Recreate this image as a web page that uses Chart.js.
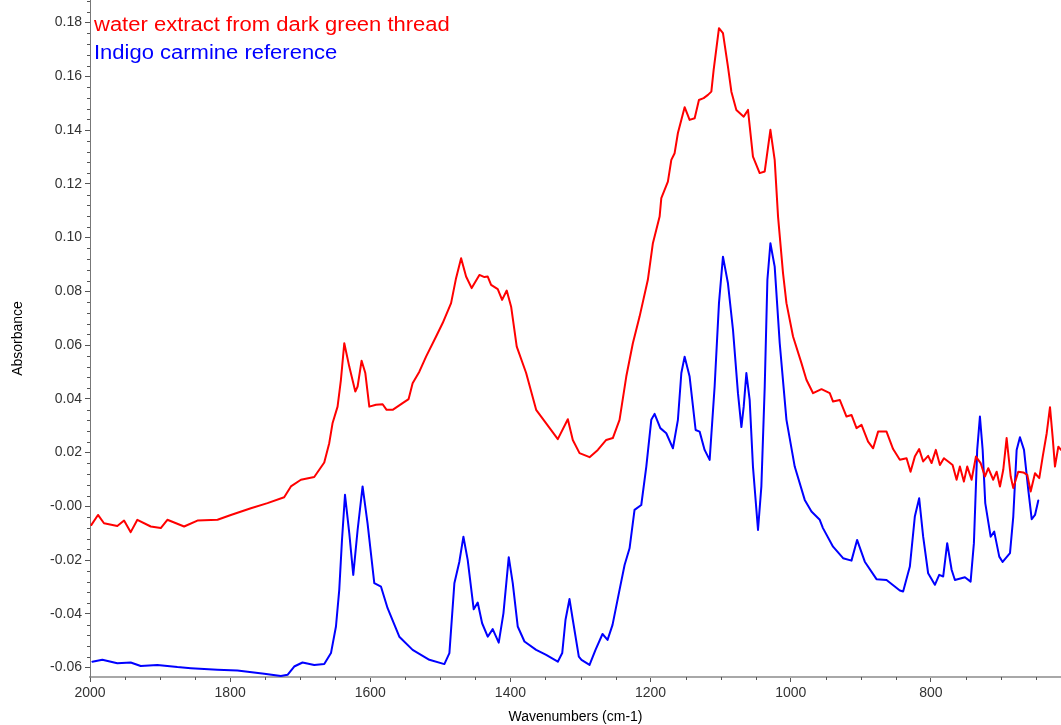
<!DOCTYPE html>
<html>
<head>
<meta charset="utf-8">
<script src="https://cdn.jsdelivr.net/npm/chart.js@4.4.1/dist/chart.umd.min.js"></script>
<style>
  html, body { margin: 0; padding: 0; background: #ffffff; }
  #wrap { width: 1061px; height: 725px; }
</style>
</head>
<body>
<div id="wrap"><canvas id="spectrum" width="1061" height="725"></canvas></div>
<script>
// Water extract from the dark green thread (cm-1, absorbance)
const sampleWavenumbers = [
  1998, 1988.6, 1980, 1961, 1951.4, 1941.9, 1932.4, 1913.3, 1899, 1889.6,
  1865.7, 1846.7, 1818, 1799, 1770.4, 1746.7, 1722.9, 1713.3, 1699, 1680,
  1665.7, 1658.6, 1653.9, 1646.7, 1641.9, 1637.1, 1630, 1621.4, 1618.1, 1612.4,
  1607.1, 1601.4, 1591.9, 1582.4, 1576.7, 1568.1, 1553.9, 1545.3, 1539.6, 1530,
  1520.4, 1506.1, 1496.7, 1484.7, 1477.6, 1470.4, 1463.3, 1455.3, 1444.3, 1437.1,
  1432.4, 1427.6, 1418.1, 1411.9, 1405.3, 1399, 1391, 1377.6, 1363.3, 1349,
  1332.4, 1318.1, 1311, 1301.4, 1287.1, 1275.3, 1263.3, 1253.9, 1244.3, 1234.7,
  1225.3, 1215.7, 1203.9, 1196.7, 1187.1, 1184.7, 1175.3, 1170.4, 1165.7, 1161,
  1151.4, 1144.3, 1137.1, 1131, 1124.3, 1118.1, 1113.3, 1110, 1102.4, 1096.7,
  1089.6, 1084.7, 1077.6, 1067.1, 1061, 1053.9, 1044.3, 1037.1, 1029, 1022.9,
  1018.1, 1011, 1006.1, 996.7, 984.7, 977.6, 968.1, 956.1, 944.3, 939.6,
  930, 920.4, 913.3, 906.1, 899, 889.6, 882.4, 875.3, 863.3, 853.9,
  844.3, 834.7, 829, 822.9, 816.7, 811, 803.9, 799, 792.9, 787.1,
  781.4, 775.3, 769, 763.3, 758.6, 752.9, 748.1, 741.9, 735.7, 729,
  722.9, 718.1, 711, 706.1, 701.4, 696.7, 691.9, 686.1, 682.4, 675.3,
  668.1, 662.4, 657.6, 651.4, 645.3, 640.4, 634.7, 630, 626.1, 622.9,
  618.1, 614.3
];
const sampleAbsorbance = [
  -0.0069, -0.0032, -0.0063, -0.0073, -0.0053, -0.0096, -0.0050, -0.0075, -0.0081, -0.0050,
  -0.0075, -0.0053, -0.0050, -0.0032, -0.0007, 0.0012, 0.0034, 0.0074, 0.0099, 0.0109,
  0.0163, 0.0235, 0.0309, 0.0371, 0.0471, 0.0607, 0.0520, 0.0427, 0.0446, 0.0542,
  0.0496, 0.0371, 0.0378, 0.0380, 0.0359, 0.0359, 0.0384, 0.0399, 0.0458, 0.0501,
  0.0557, 0.0632, 0.0682, 0.0756, 0.0849, 0.0923, 0.0855, 0.0812, 0.0861, 0.0853,
  0.0855, 0.0824, 0.0808, 0.0768, 0.0803, 0.0743, 0.0594, 0.0496, 0.0359, 0.0309,
  0.0250, 0.0324, 0.0247, 0.0198, 0.0183, 0.0210, 0.0247, 0.0254, 0.0322, 0.0483,
  0.0607, 0.0706, 0.0843, 0.0979, 0.1078, 0.1147, 0.1208, 0.1289, 0.1314, 0.1389,
  0.1485, 0.1438, 0.1444, 0.1512, 0.1519, 0.1531, 0.1543, 0.1624, 0.1779, 0.1761,
  0.1636, 0.1543, 0.1475, 0.1450, 0.1475, 0.1301, 0.1240, 0.1246, 0.1401, 0.1289,
  0.1078, 0.0868, 0.0756, 0.0632, 0.0533, 0.0471, 0.0421, 0.0436, 0.0421, 0.0390,
  0.0396, 0.0334, 0.0340, 0.0291, 0.0303, 0.0241, 0.0216, 0.0278, 0.0278, 0.0213,
  0.0173, 0.0179, 0.0129, 0.0185, 0.0213, 0.0167, 0.0188, 0.0161, 0.0210, 0.0154,
  0.0179, 0.0167, 0.0154, 0.0099, 0.0148, 0.0092, 0.0148, 0.0099, 0.0185, 0.0161,
  0.0111, 0.0142, 0.0099, 0.0129, 0.0074, 0.0136, 0.0254, 0.0111, 0.0068, 0.0129,
  0.0126, 0.0117, 0.0055, 0.0123, 0.0105, 0.0185, 0.0272, 0.0369, 0.0254, 0.0148,
  0.0222, 0.0210
];

// Indigo carmine reference spectrum (cm-1, absorbance)
const referenceWavenumbers = [
  1996.7, 1982.4, 1961, 1941.9, 1927.6, 1903.9, 1875.3, 1856.1, 1818.1, 1789.6,
  1751.4, 1727.6, 1718.1, 1708.6, 1696.7, 1680, 1665.7, 1656.1, 1649, 1644.3,
  1640.4, 1636.1, 1630, 1624.3, 1618.1, 1611, 1603.9, 1594.3, 1584.7, 1575.3,
  1558.6, 1539.6, 1515.7, 1494.3, 1487.1, 1480, 1472.9, 1467.1, 1461, 1452.4,
  1446.7, 1440.4, 1432.4, 1425.3, 1416.7, 1410, 1402.4, 1396.7, 1389.6, 1380,
  1363.3, 1349, 1332.4, 1326.1, 1321.4, 1315.7, 1311, 1302.4, 1298.6, 1287.1,
  1278.6, 1268.6, 1261.4, 1254.3, 1244.3, 1237.1, 1230, 1222.9, 1213.3, 1206.1,
  1199, 1194.3, 1186.1, 1177.6, 1168.1, 1161, 1156.1, 1151.4, 1144.3, 1135.7,
  1130, 1122.9, 1115.7, 1108.6, 1102.4, 1096.7, 1089.6, 1082.4, 1075.3, 1070.4,
  1067.1, 1063.3, 1058.6, 1053.9, 1046.7, 1041.9, 1037.1, 1033.3, 1029, 1022.9,
  1015.7, 1006.1, 994.3, 980, 970.4, 958.6, 954, 939.6, 925.3, 913.3,
  905.3, 894.3, 877.6, 863.3, 844.3, 839.6, 830, 822.9, 816.7, 811,
  803.9, 794.3, 788.1, 782.4, 776.7, 770.4, 765.7, 751.4, 743.3, 738.6,
  733.9, 730, 726.1, 722.4, 714.7, 709.6, 702.4, 697.6, 687.1, 682.4,
  677.6, 672.9, 667.1, 661, 656.1, 651.4, 646.7
];
const referenceAbsorbance = [
  -0.0578, -0.0571, -0.0584, -0.0581, -0.0594, -0.0590, -0.0598, -0.0602, -0.0608, -0.0611,
  -0.0623, -0.0631, -0.0627, -0.0596, -0.0581, -0.0590, -0.0587, -0.0546, -0.0447, -0.0311,
  -0.0125, 0.0043, -0.0100, -0.0255, -0.0088, 0.0074, -0.0063, -0.0286, -0.0299, -0.0379,
  -0.0485, -0.0534, -0.0571, -0.0587, -0.0546, -0.0286, -0.0206, -0.0113, -0.0199, -0.0383,
  -0.0358, -0.0435, -0.0485, -0.0457, -0.0507, -0.0398, -0.0189, -0.0286, -0.0447, -0.0503,
  -0.0534, -0.0553, -0.0578, -0.0546, -0.0422, -0.0345, -0.0422, -0.0559, -0.0571, -0.0590,
  -0.0534, -0.0475, -0.0497, -0.0441, -0.0311, -0.0218, -0.0156, -0.0013, 0.0005, 0.0148,
  0.0322, 0.0344, 0.0291, 0.0272, 0.0216, 0.0322, 0.0496, 0.0557, 0.0483, 0.0284,
  0.0278, 0.0210, 0.0173, 0.0446, 0.0756, 0.0929, 0.0830, 0.0657, 0.0421, 0.0295,
  0.0371, 0.0496, 0.0396, 0.0148, -0.0088, 0.0074, 0.0446, 0.0843, 0.0979, 0.0892,
  0.0607, 0.0322, 0.0148, 0.0024, -0.0019, -0.0050, -0.0081, -0.0150, -0.0193, -0.0202,
  -0.0125, -0.0206, -0.0271, -0.0274, -0.0313, -0.0317, -0.0224, -0.0038, 0.0030, -0.0113,
  -0.0249, -0.0292, -0.0255, -0.0261, -0.0137, -0.0236, -0.0274, -0.0264, -0.0280, -0.0137,
  0.0210, 0.0334, 0.0210, 0.0012, -0.0113, -0.0094, -0.0187, -0.0207, -0.0174, -0.0038,
  0.0210, 0.0257, 0.0210, 0.0061, -0.0048, -0.0032, 0.0022
];

const seriesNames = ['water extract from dark green thread', 'Indigo carmine reference'];
const seriesColors = ['#ff0000', '#0000ff'];

// Axis ranges and tick positions
const xRange = [614.3, 2000];
const yRange = [-0.0635, 0.1884];
const xTickValues = [800, 1000, 1200, 1400, 1600, 1800, 2000];
const yTickValues = [-0.06, -0.04, -0.02, 0, 0.02, 0.04, 0.06, 0.08, 0.10, 0.12, 0.14, 0.16, 0.18];
const xMinorStep = 50;
const yMinorStep = 0.004;

const FONT = '"Liberation Sans", Arial, Helvetica, sans-serif';

function toPoints(xs, ys) {
  return xs.map((x, i) => ({ x: x, y: ys[i] }));
}

// Small unlabeled ticks between the labeled ones
const minorTicks = {
  id: 'minorTicks',
  afterDraw(chart) {
    const { ctx, chartArea, scales } = chart;
    ctx.save();
    ctx.strokeStyle = '#555';
    ctx.lineWidth = 1;
    ctx.beginPath();
    for (let k = Math.ceil(xRange[0] / xMinorStep); k * xMinorStep <= xRange[1]; k++) {
      if (k % 4 === 0) continue;
      const px = Math.round(scales.x.getPixelForValue(k * xMinorStep)) + 0.5;
      ctx.moveTo(px, chartArea.bottom);
      ctx.lineTo(px, chartArea.bottom + 3);
    }
    for (let k = Math.ceil(yRange[0] / yMinorStep); k * yMinorStep <= yRange[1]; k++) {
      if (k % 5 === 0) continue;
      const py = Math.round(scales.y.getPixelForValue(k * yMinorStep)) + 0.5;
      ctx.moveTo(chartArea.left - 3, py);
      ctx.lineTo(chartArea.left, py);
    }
    ctx.stroke();
    ctx.restore();
  }
};

// Series names written in their line colours at the top left of the plot
const textLegend = {
  id: 'textLegend',
  afterDraw(chart) {
    const { ctx, chartArea } = chart;
    ctx.save();
    ctx.font = '20px ' + FONT;
    ctx.textBaseline = 'alphabetic';
    ctx.textAlign = 'left';
    const baselines = [31, 59];
    seriesNames.forEach((name, i) => {
      ctx.save();
      ctx.translate(chartArea.left + 4, baselines[i]);
      ctx.scale(1.1, 1);
      ctx.fillStyle = seriesColors[i];
      ctx.fillText(name, 0, 0);
      ctx.restore();
    });
    ctx.restore();
  }
};

const lineStyle = {
  borderWidth: 2,
  borderJoinStyle: 'round',
  borderCapStyle: 'round',
  pointRadius: 0,
  tension: 0,
  fill: false
};

new Chart(document.getElementById('spectrum'), {
  type: 'line',
  data: {
    datasets: [
      Object.assign({
        label: seriesNames[0],
        data: toPoints(sampleWavenumbers, sampleAbsorbance),
        borderColor: seriesColors[0]
      }, lineStyle),
      Object.assign({
        label: seriesNames[1],
        data: toPoints(referenceWavenumbers, referenceAbsorbance),
        borderColor: seriesColors[1]
      }, lineStyle)
    ]
  },
  options: {
    responsive: false,
    animation: false,
    devicePixelRatio: 1,
    layout: { padding: 0 },
    plugins: {
      legend: { display: false },
      tooltip: { enabled: false }
    },
    scales: {
      x: {
        type: 'linear',
        reverse: true,
        min: xRange[0],
        max: xRange[1],
        afterBuildTicks(s) { s.ticks = xTickValues.map((v) => ({ value: v })); },
        afterFit(s) { s.height = 48; s.paddingLeft = 0; s.paddingRight = 0; },
        border: { display: true, color: '#a8a8a8', width: 2 },
        grid: { drawOnChartArea: false, drawTicks: true, tickLength: 5, tickColor: '#555' },
        ticks: {
          autoSkip: false,
          maxRotation: 0,
          padding: 3,
          color: '#333',
          font: { family: FONT, size: 14 },
          callback: (v) => String(Math.round(v))
        },
        title: {
          display: true,
          text: 'Wavenumbers (cm-1)',
          color: '#000',
          font: { family: FONT, size: 14 },
          padding: { top: 0, bottom: -1 }
        }
      },
      y: {
        type: 'linear',
        min: yRange[0],
        max: yRange[1],
        afterBuildTicks(s) { s.ticks = yTickValues.map((v) => ({ value: v })); },
        afterFit(s) { s.width = 90; s.paddingTop = 0; s.paddingBottom = 0; },
        border: { display: true, color: '#777', width: 1 },
        grid: { drawOnChartArea: false, drawTicks: true, tickLength: 5, tickColor: '#555' },
        ticks: {
          autoSkip: false,
          padding: 3,
          color: '#333',
          font: { family: FONT, size: 14 },
          callback: (v) => (Math.abs(v) < 1e-9 ? '-0.00' : v.toFixed(2))
        },
        title: {
          display: true,
          text: 'Absorbance',
          color: '#000',
          font: { family: FONT, size: 14 },
          padding: { top: 10, bottom: 0 }
        }
      }
    }
  },
  plugins: [minorTicks, textLegend]
});
</script>
</body>
</html>
